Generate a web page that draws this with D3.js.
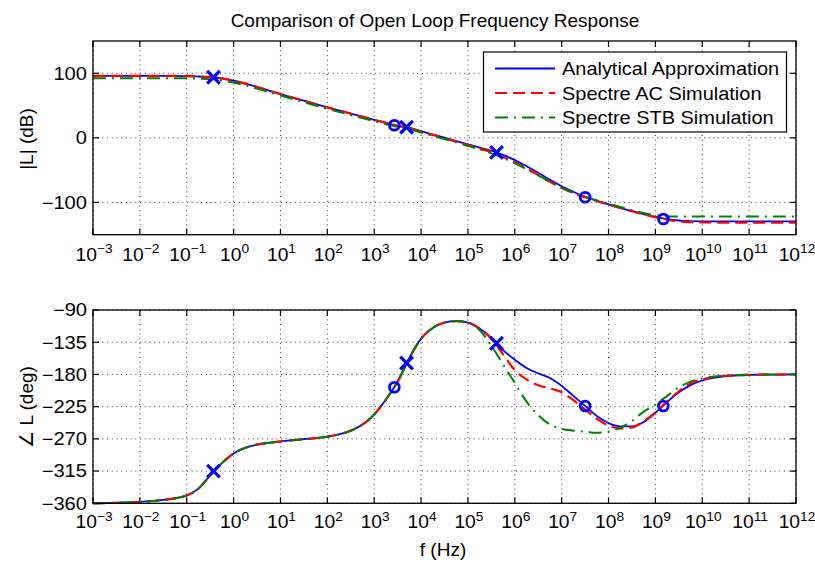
<!DOCTYPE html>
<html>
<head>
<meta charset="utf-8">
<script src="https://cdn.jsdelivr.net/npm/d3@7"></script>
<style>
  body { margin: 0; background: #fff; }
  svg text { font-family: "Liberation Sans", Arial, Helvetica, sans-serif; fill: #000; }
</style>
</head>
<body>
<svg id="chart" width="815" height="563"></svg>
<script>
// Frequency grid, given as base-10 exponents of f in Hz
const logFreq = [-3, -2.5, -2, -1.5, -1, -0.75, -0.5, -0.25, 0, 0.25, 0.5, 0.75, 1, 1.5, 2, 2.5, 2.75,
  3, 3.25, 3.5, 3.75, 4, 4.25, 4.5, 4.75, 5, 5.25, 5.5, 5.75, 6, 6.25, 6.5, 6.75, 7, 7.25, 7.5, 7.75,
  8, 8.25, 8.5, 8.75, 9, 9.25, 9.5, 9.75, 10, 10.5, 11, 11.5, 12];

// Loop gain magnitude |L| in dB
const magAnalytical = [96, 96, 96, 96, 95.7, 95, 94, 92, 88.5, 84, 78.8, 73.3, 67.8, 57.5, 47.2, 37.5, 32.7,
  28, 23.2, 18.7, 15.3, 10.3, 5.2, 0.2, -5, -10, -15, -20, -26.5, -34.5, -44, -54, -65, -75, -83.5, -91.5, -97.5,
  -103, -108.5, -113.5, -118, -122.5, -126, -128, -129, -129.3, -129.5, -129.5, -129.5, -129.5];
const magAC = [96, 96, 96, 96, 95.7, 95, 94, 92, 88.5, 84, 78.8, 73.3, 67.8, 57.5, 47.2, 37.5, 32.7,
  28, 23.2, 18.7, 15, 9.8, 4.6, -0.5, -5.8, -11, -16.5, -22, -29.5, -38, -47.5, -57.5, -68, -77.5, -85.5, -92, -97.8,
  -103.2, -108.7, -113.7, -118.5, -123, -126.8, -129.3, -130.5, -131, -131.2, -131.2, -131.2, -131.2];
const magSTB = [92.5, 92.5, 92.5, 92.5, 92.3, 91.8, 90.8, 89, 85.6, 81.3, 76.3, 71, 65.5, 55.3, 45, 35.3, 30.5,
  25.8, 21.2, 17, 13.3, 8.3, 3.2, -2, -7.2, -12.5, -18, -24, -31, -39.5, -48.5, -58, -68, -77, -84.8, -91.2, -96.8,
  -102, -107, -112, -116.5, -120, -121.8, -122, -122, -122, -122, -122, -122, -122];

// Loop gain phase angle of L in degrees
const phaseAnalytical = [-360, -359.3, -358, -355.3, -349, -339.5, -321, -304, -290.5, -282.5, -278, -275.5, -273.5, -270.5, -267, -258.5, -250,
  -236, -215, -190, -157, -130, -115, -107.5, -105.5, -107.5, -116, -129, -146, -159.5, -171, -178.5, -185, -196, -210, -224, -238,
  -248, -252.5, -252.5, -246.5, -233.5, -218.5, -205, -195, -188.5, -182.5, -180.7, -180.2, -180];
const phaseAC = [-360, -359.3, -358, -355.3, -349, -339.5, -321, -304, -290.5, -282.5, -278, -275.5, -273.5, -270.5, -267, -258.5, -250,
  -236, -215, -190, -157, -130, -115, -107.5, -105.5, -107.5, -116, -130, -152, -174, -187, -195, -199.5, -205, -216, -229, -242,
  -251.5, -255.5, -254, -245.5, -233, -218, -203.5, -192.5, -187, -182, -180.6, -180.2, -180];
const phaseSTB = [-360, -359.3, -358, -355.3, -349, -339.5, -321, -304, -290.5, -282.5, -278, -275.5, -273.5, -270.5, -267, -258.5, -250,
  -236, -215, -190, -157, -130, -115, -107.5, -105.5, -107.5, -118, -140, -166, -192, -218, -237, -250, -256, -258.5, -260, -261.5,
  -260, -254.5, -245, -232, -222, -210, -198, -190, -185.5, -181.5, -180.3, -180, -180];

// Poles (x) and zeros (o) of the analytical approximation
const poleLogFreq = [-0.43, 3.69, 5.61];
const poleMag = [93.8, 16.5, -22.4];
const polePhase = [-315, -164, -136.5];
const zeroLogFreq = [3.43, 7.5, 9.17];
const zeroMag = [19.6, -92, -125.7];
const zeroPhase = [-198, -224, -224];

// Axis ticks and labels
const xTickExps = [-3, -2, -1, 0, 1, 2, 3, 4, 5, 6, 7, 8, 9, 10, 11, 12];
const magTicks = [-100, 0, 100];
const phaseTicks = [-360, -315, -270, -225, -180, -135, -90];
const seriesNames = ["Analytical Approximation", "Spectre AC Simulation", "Spectre STB Simulation"];
const titleText = "Comparison of Open Loop Frequency Response";

const svg = d3.select("#chart");
const plotLeft = 93, plotRight = 796;
const styles = [
  { color: "#0000ff", width: 1.8, dash: null },
  { color: "#ff0000", width: 2.2, dash: "12,6" },
  { color: "#008000", width: 2.0, dash: "13,6,2,6" }
];
const minus = s => String(s).replace("-", "\u2212");

const x = d3.scaleLog().domain([1e-3, 1e12]).range([plotLeft, plotRight]);

// text placed at (px, py) with a slight horizontal widening of the glyphs
function label(parent, px, py, sx, size, anchor) {
  return parent.append("text")
    .attr("transform", `translate(${px},${py}) scale(${sx},1)`)
    .attr("font-size", size).attr("text-anchor", anchor);
}

function drawPanel(top, bottom, yDomain, yTicks, series, poles, zeros, yLabel, labelCenterY, xLabelGap) {
  const y = d3.scaleLinear().domain(yDomain).range([bottom, top]);
  const g = svg.append("g");

  // dotted grid
  g.selectAll(".gx").data(xTickExps).enter().append("line")
    .attr("x1", d => x(Math.pow(10, d))).attr("x2", d => x(Math.pow(10, d)))
    .attr("y1", top).attr("y2", bottom)
    .attr("stroke", "#222").attr("stroke-width", 0.9).attr("stroke-dasharray", "1,3.7");
  g.selectAll(".gy").data(yTicks).enter().append("line")
    .attr("x1", plotLeft).attr("x2", plotRight)
    .attr("y1", d => y(d)).attr("y2", d => y(d))
    .attr("stroke", "#222").attr("stroke-width", 0.9).attr("stroke-dasharray", "1,3.7");

  // inward ticks on all four sides
  const tl = 6;
  xTickExps.forEach(e => {
    const px = x(Math.pow(10, e));
    g.append("line").attr("x1", px).attr("x2", px).attr("y1", bottom).attr("y2", bottom - tl).attr("stroke", "#000").attr("stroke-width", 1.2);
    g.append("line").attr("x1", px).attr("x2", px).attr("y1", top).attr("y2", top + tl).attr("stroke", "#000").attr("stroke-width", 1.2);
  });
  yTicks.forEach(v => {
    const py = y(v);
    g.append("line").attr("x1", plotLeft).attr("x2", plotLeft + tl).attr("y1", py).attr("y2", py).attr("stroke", "#000").attr("stroke-width", 1.2);
    g.append("line").attr("x1", plotRight).attr("x2", plotRight - tl).attr("y1", py).attr("y2", py).attr("stroke", "#000").attr("stroke-width", 1.2);
  });

  // curves
  const line = d3.line()
    .x((d, i) => x(Math.pow(10, logFreq[i])))
    .y(d => y(d))
    .curve(d3.curveMonotoneX);
  series.forEach((vals, k) => {
    g.append("path").attr("d", line(vals))
      .attr("fill", "none").attr("stroke", styles[k].color)
      .attr("stroke-width", styles[k].width)
      .attr("stroke-dasharray", styles[k].dash);
  });

  // pole markers
  const s = 6.3;
  poles.lf.forEach((lf, i) => {
    const cx = x(Math.pow(10, lf)), cy = y(poles.v[i]);
    g.append("path")
      .attr("d", `M${cx - s},${cy - s}L${cx + s},${cy + s}M${cx - s},${cy + s}L${cx + s},${cy - s}`)
      .attr("stroke", "#0000ff").attr("stroke-width", 3.2).attr("fill", "none");
  });
  // zero markers
  zeros.lf.forEach((lf, i) => {
    g.append("circle").attr("cx", x(Math.pow(10, lf))).attr("cy", y(zeros.v[i])).attr("r", 4.9)
      .attr("fill", "none").attr("stroke", "#0000ff").attr("stroke-width", 2.8);
  });

  // box
  g.append("rect").attr("x", plotLeft).attr("y", top).attr("width", plotRight - plotLeft).attr("height", bottom - top)
    .attr("fill", "none").attr("stroke", "#000").attr("stroke-width", 1.3);

  // y tick labels
  yTicks.forEach(v => {
    label(g, plotLeft - 6, y(v) + 6.3, 1.15, 17.5, "end").text(minus(v));
  });

  // x tick labels 10^n
  xTickExps.forEach(e => {
    const t = label(g, x(Math.pow(10, e)) + 1, bottom + xLabelGap, 1.1, 17.5, "middle");
    t.append("tspan").text("10");
    t.append("tspan").attr("dy", -7.5).attr("font-size", 12.5).text(minus(e));
  });

  // y axis label
  svg.append("text").attr("transform", `translate(33,${labelCenterY}) rotate(-90)`)
    .attr("text-anchor", "middle").attr("font-size", 19).text(yLabel);
  return y;
}

drawPanel(41, 234.7, [-150, 150], magTicks, [magAnalytical, magAC, magSTB],
  { lf: poleLogFreq, v: poleMag }, { lf: zeroLogFreq, v: zeroMag }, "|L| (dB)", 139, 26);
drawPanel(310, 503.3, [-360, -90], phaseTicks, [phaseAnalytical, phaseAC, phaseSTB],
  { lf: poleLogFreq, v: polePhase }, { lf: zeroLogFreq, v: zeroPhase }, "\u2220 L (deg)", 407, 25);

// title and x label
svg.append("text").attr("x", 435).attr("y", 27).attr("text-anchor", "middle").attr("font-size", 19).text(titleText);
svg.append("text").attr("x", 443).attr("y", 556).attr("text-anchor", "middle").attr("font-size", 19).text("f (Hz)");

// legend
const lg = svg.append("g");
lg.append("rect").attr("x", 483.5).attr("y", 52).attr("width", 303).attr("height", 80)
  .attr("fill", "#fff").attr("stroke", "#000").attr("stroke-width", 1.2);
seriesNames.forEach((name, k) => {
  const cy = 68.5 + k * 24.5;
  lg.append("line").attr("x1", 495).attr("x2", 555).attr("y1", cy).attr("y2", cy)
    .attr("stroke", styles[k].color).attr("stroke-width", styles[k].width)
    .attr("stroke-dasharray", styles[k].dash);
  label(lg, 562, cy + 6.7, 1.05, 19, "start").text(name);
});
</script>
</body>
</html>
